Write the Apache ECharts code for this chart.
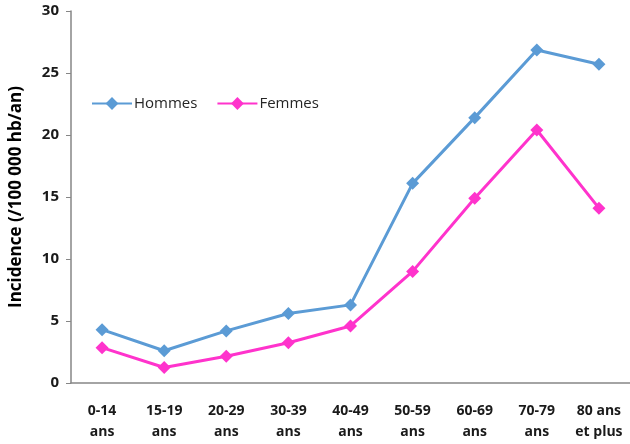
<!DOCTYPE html>
<html>
<head>
<meta charset="utf-8">
<script src="https://cdn.jsdelivr.net/npm/echarts@6/dist/echarts.min.js"></script>
<style>
  html, body { margin: 0; padding: 0; background: #fff; }
  #chart { width: 630px; height: 444px; }
</style>
</head>
<body>
<div id="chart"></div>
<script>
// Age groups (two-line labels)
const ageGroups = ['0-14\nans', '15-19\nans', '20-29\nans', '30-39\nans', '40-49\nans',
                   '50-59\nans', '60-69\nans', '70-79\nans', '80 ans\net plus'];
// Incidence per 100 000 inhabitants per year
const hommes = [4.3, 2.6, 4.2, 5.6, 6.3, 16.1, 21.4, 26.85, 25.7];
const femmes = [2.85, 1.25, 2.15, 3.25, 4.6, 9.0, 14.9, 20.4, 14.1];
const yTicks = { min: 0, max: 30, interval: 5 };

const font = "'Open Sans', 'Liberation Sans', sans-serif";
const chart = echarts.init(document.getElementById('chart'), null, { renderer: 'canvas' });

chart.setOption({
  animation: false,
  backgroundColor: '#ffffff',
  grid: { left: 70, right: -3, top: 11, bottom: 61, containLabel: false },
  legend: {
    left: 91, top: 96, padding: 0,
    itemWidth: 40, itemHeight: 16, itemGap: 19,
    textStyle: { fontFamily: font, fontSize: 15, color: '#262626', padding: [0, 0, 0, -3] },
    data: ['Hommes', 'Femmes']
  },
  xAxis: {
    type: 'category',
    data: ageGroups,
    boundaryGap: true,
    axisLine: { lineStyle: { color: '#868686', width: 1.5 } },
    axisTick: { show: false },
    axisLabel: {
      interval: 0, margin: 18, color: '#1a1a1a',
      fontFamily: font, fontSize: 14, fontWeight: 'bold', lineHeight: 21
    }
  },
  yAxis: {
    type: 'value',
    min: yTicks.min, max: yTicks.max, interval: yTicks.interval,
    name: 'Incidence (/100 000 hb/an)',
    nameLocation: 'middle', nameGap: 46, nameRotate: 90,
    nameTextStyle: { fontFamily: font, fontSize: 17, fontWeight: 'bold', color: '#000' },
    splitLine: { show: false },
    axisLine: { show: true, lineStyle: { color: '#868686', width: 1.5 } },
    axisTick: { show: true, length: 5, lineStyle: { color: '#868686' } },
    axisLabel: { margin: 12, color: '#1a1a1a', fontFamily: font, fontSize: 15, fontWeight: 'bold' }
  },
  series: [
    {
      name: 'Hommes', type: 'line', data: hommes,
      symbol: 'diamond', symbolSize: 13,
      itemStyle: { color: '#5B9BD5' },
      lineStyle: { color: '#5B9BD5', width: 3 }
    },
    {
      name: 'Femmes', type: 'line', data: femmes,
      symbol: 'diamond', symbolSize: 13,
      itemStyle: { color: '#FF33CC' },
      lineStyle: { color: '#FF33CC', width: 3 }
    }
  ]
});
</script>
</body>
</html>
